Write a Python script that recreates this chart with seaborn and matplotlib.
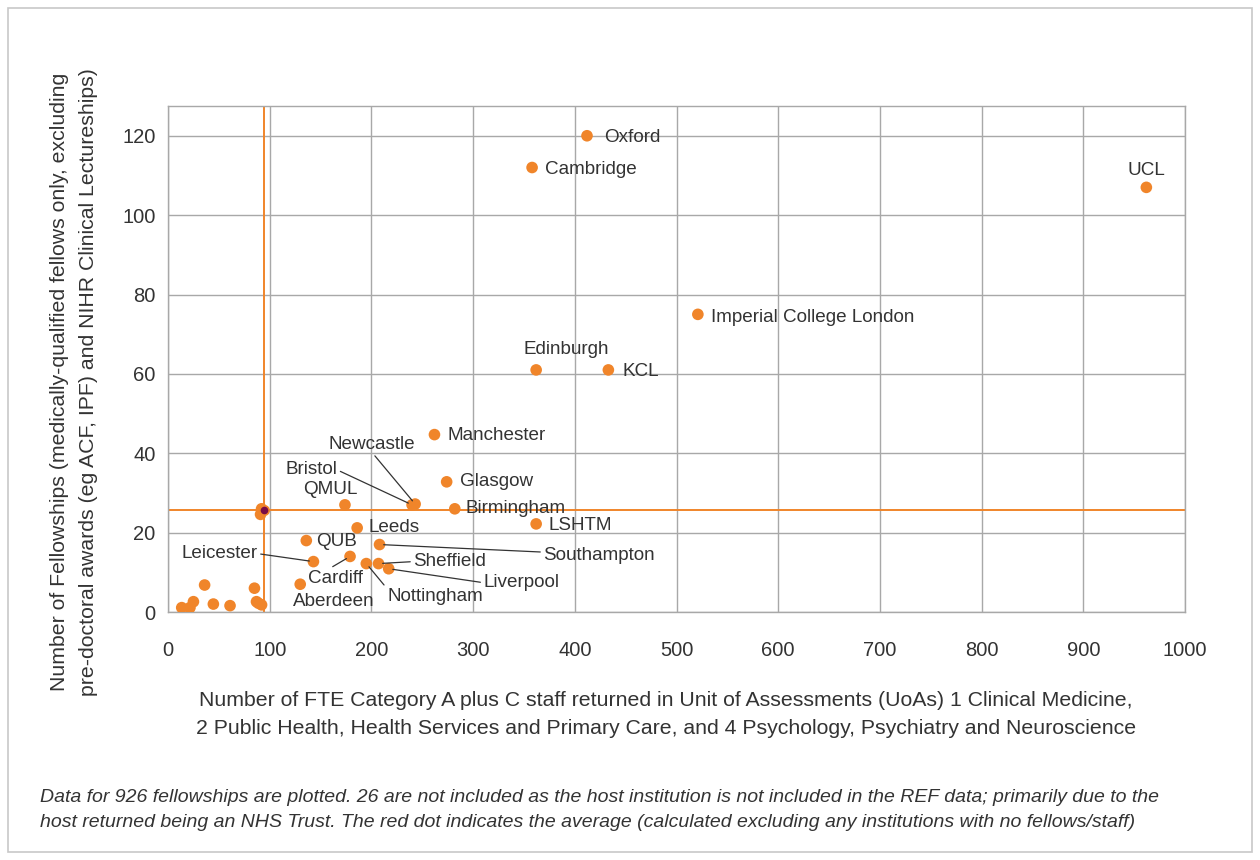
import matplotlib
matplotlib.use("Agg")
import matplotlib.pyplot as plt
import seaborn as sns
import pandas as pd
from matplotlib.patches import Rectangle

# labelled institutions: FTE staff (x) and fellowships (y)
names = ["Oxford", "Cambridge", "UCL", "Imperial College London", "Edinburgh", "KCL",
         "Manchester", "Glasgow", "Birmingham", "Newcastle", "Bristol", "QMUL", "Leeds",
         "LSHTM", "QUB", "Southampton", "Leicester", "Cardiff", "Nottingham", "Sheffield",
         "Liverpool", "Aberdeen"]
staff = [412, 358, 962, 521, 362, 433, 262, 274, 282, 243, 240, 174, 186, 362, 136, 208,
         143, 179, 195, 207, 217, 130]
fellows = [120, 112, 107, 75, 61, 61, 44.7, 32.8, 26, 27.2, 27, 27, 21.2, 22.2, 18, 17,
           12.7, 14, 12.2, 12.2, 10.9, 7]

# unlabelled smaller institutions
small_staff = [92, 91, 36, 85, 25, 13.5, 21.6, 44.6, 61, 87, 92, 89]
small_fellows = [26, 24.6, 6.8, 6, 2.6, 1.1, 1.1, 2.0, 1.6, 2.6, 1.8, 2.2]

avg_staff = 94.5
avg_fellows = 25.8

# label placement: offset in pixels from the dot, alignment, leader line anchor (None = no line)
label_pos = {
    "Oxford": (17, -2, "left", None),
    "Cambridge": (13, -2, "left", None),
    "UCL": (0, 17, "center", None),
    "Imperial College London": (13, -3, "left", None),
    "Edinburgh": (30, 20, "center", None),
    "KCL": (14, -2, "left", None),
    "Manchester": (13, -1, "left", None),
    "Glasgow": (13, 0, "left", None),
    "Birmingham": (11, 0, "left", None),
    "Newcastle": (-43, 60, "center", (0.5, 0.0)),
    "Bristol": (-75, 35, "right", (1.0, 0.5)),
    "QMUL": (-15, 15, "center", None),
    "Leeds": (11, 0, "left", None),
    "LSHTM": (12, -2, "left", None),
    "QUB": (10, -1, "left", None),
    "Southampton": (164, -11, "left", (0.0, 0.7)),
    "Leicester": (-56, 8, "right", (1.0, 0.5)),
    "Cardiff": (-42, -22, "left", (0.4, 1.1)),
    "Nottingham": (21, -33, "left", (0.0, 0.95)),
    "Sheffield": (35, 2, "left", (0.0, 0.5)),
    "Liverpool": (95, -14, "left", (0.0, 0.5)),
    "Aberdeen": (-7, -17, "left", None),
}

orange = "#F0852A"
avg_color = "#7A0C45"
grid_color = "#A8A8A8"
text_color = "#333333"

sns.set_style("white")
plt.rcParams["font.family"] = ["Liberation Sans", "DejaVu Sans"]

fig = plt.figure(figsize=(12.6, 8.6), dpi=100)
ax = fig.add_axes([168 / 1260, 1 - 612 / 860, 1017 / 1260, 506 / 860])

df = pd.DataFrame({"staff": staff + small_staff, "fellows": fellows + small_fellows})

ax.axvline(avg_staff, color=orange, lw=1.4, zorder=2)
ax.axhline(avg_fellows, color=orange, lw=1.4, zorder=2)

sns.scatterplot(data=df, x="staff", y="fellows", color=orange, s=70, edgecolor="none",
                linewidth=0, ax=ax, zorder=3)
ax.scatter([avg_staff], [avg_fellows], color=avg_color, s=45, edgecolor=orange,
           linewidth=1.2, zorder=4)

for name, x, y in zip(names, staff, fellows):
    dx, dy, ha, rel = label_pos[name]
    arrow = None
    if rel is not None:
        arrow = dict(arrowstyle="-", color="#333333", lw=0.9, relpos=rel, shrinkA=0, shrinkB=3)
    ax.annotate(name, xy=(x, y), xytext=(dx, dy), textcoords="offset pixels",
                ha=ha, va="center", fontsize=13.6, color=text_color, arrowprops=arrow,
                zorder=5)

ax.set_xlim(0, 1000)
ax.set_ylim(0, 127.5)
ax.set_xticks(range(0, 1001, 100))
ax.set_yticks(range(0, 121, 20))
ax.grid(True, color=grid_color, lw=1)
ax.set_axisbelow(True)
for sp in ax.spines.values():
    sp.set_color(grid_color)
    sp.set_linewidth(1)
ax.tick_params(axis="x", length=0, pad=21, labelsize=14.5, labelcolor=text_color)
ax.tick_params(axis="y", length=0, pad=9, labelsize=14.5, labelcolor=text_color)
ax.set_xlabel("")
ax.set_ylabel("")

fig.text(666 / 1260, 1 - 714 / 860,
         "Number of FTE Category A plus C staff returned in Unit of Assessments (UoAs) 1 Clinical Medicine,\n"
         "2 Public Health, Health Services and Primary Care, and 4 Psychology, Psychiatry and Neuroscience",
         ha="center", va="center", fontsize=15.3, color=text_color, linespacing=1.6)
fig.text(74 / 1260, 1 - 382 / 860,
         "Number of Fellowships (medically-qualified fellows only, excluding\n"
         "pre-doctoral awards (eg ACF, IPF) and NIHR Clinical Lectureships)",
         ha="center", va="center", rotation=90, fontsize=15.3, color=text_color, linespacing=1.65)
fig.text(40 / 1260, 1 - 810 / 860,
         "Data for 926 fellowships are plotted. 26 are not included as the host institution is not included in the REF data; primarily due to the\n"
         "host returned being an NHS Trust. The red dot indicates the average (calculated excluding any institutions with no fellows/staff)",
         ha="left", va="center", fontsize=14, style="italic", color=text_color, linespacing=1.6)

fig.patches.append(Rectangle((8 / 1260, 8 / 860), 1244 / 1260, 844 / 860, transform=fig.transFigure,
                             fill=False, edgecolor="#C8C8C8", lw=1.2))

fig.savefig("out.png", dpi=100)
